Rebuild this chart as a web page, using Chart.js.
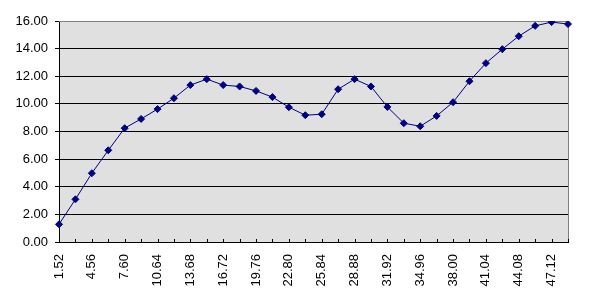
<!DOCTYPE html>
<html>
<head>
<meta charset="utf-8">
<script src="https://cdn.jsdelivr.net/npm/chart.js@4"></script>
<style>
  html, body { margin: 0; padding: 0; background: #fff; }
  #wrap { width: 604px; height: 301px; }
</style>
</head>
<body>
<div id="wrap"><canvas id="chart" width="604" height="301"></canvas></div>
<script>
const categories = [
  "1.52", "3.04", "4.56", "6.08", "7.60", "9.12", "10.64", "12.16",
  "13.68", "15.20", "16.72", "18.24", "19.76", "21.28", "22.80", "24.32",
  "25.84", "27.36", "28.88", "30.40", "31.92", "33.44", "34.96", "36.48",
  "38.00", "39.52", "41.04", "42.56", "44.08", "45.60", "47.12", "48.64"
];
const values = [
  1.28, 3.09, 4.98, 6.64, 8.24, 8.91, 9.62, 10.41,
  11.36, 11.79, 11.36, 11.26, 10.94, 10.49, 9.76, 9.18,
  9.25, 11.06, 11.79, 11.26, 9.78, 8.60, 8.38, 9.13,
  10.12, 11.64, 12.95, 13.96, 14.90, 15.65, 15.92, 15.78
];
const yMin = 0;
const yMax = 16;
const yStep = 2;

// plot background, frame and inward x tick marks
const framePlugin = {
  id: "frame",
  beforeDraw(chart) {
    const { ctx, chartArea: a } = chart;
    ctx.save();
    ctx.fillStyle = "#e0e0e0";
    ctx.fillRect(a.left, a.top, a.right - a.left, a.bottom - a.top);
    ctx.restore();
  },
  beforeDatasetsDraw(chart) {
    const { ctx, chartArea: a } = chart;
    const x = chart.scales.x;
    ctx.save();
    ctx.strokeStyle = "#808080";
    ctx.lineWidth = 1;
    ctx.beginPath();
    ctx.moveTo(a.left, a.top + 0.5);
    ctx.lineTo(a.right + 0.5, a.top + 0.5);
    ctx.lineTo(a.right + 0.5, a.bottom);
    ctx.stroke();
    ctx.strokeStyle = "#000";
    ctx.beginPath();
    x.ticks.forEach((t, i) => {
      const px = Math.round(x.getPixelForTick(i)) + 0.5;
      ctx.moveTo(px, a.bottom);
      ctx.lineTo(px, a.bottom - 3);
    });
    ctx.stroke();
    ctx.restore();
  }
};

new Chart(document.getElementById("chart"), {
  type: "line",
  data: {
    labels: categories,
    datasets: [{
      data: values,
      borderColor: "#000080",
      backgroundColor: "#000080",
      borderWidth: 1,
      pointStyle: "rectRot",
      pointRadius: 3.5,
      pointBorderWidth: 1,
      pointBackgroundColor: "#000080",
      pointBorderColor: "#000080",
      tension: 0
    }]
  },
  options: {
    responsive: false,
    animation: false,
    events: [],
    layout: { padding: { top: 21, right: 36, left: 0, bottom: 0 } },
    plugins: { legend: { display: false }, tooltip: { enabled: false } },
    scales: {
      x: {
        offset: false,
        grid: { display: false },
        border: { display: true, color: "#000", width: 1 },
        ticks: {
          autoSkip: false,
          minRotation: 90,
          maxRotation: 90,
          padding: 4,
          color: "#000",
          font: { family: "Liberation Sans, Arial", size: 13 },
          callback: (v, i) => (i % 2 === 0 ? categories[i] : "")
        },
        afterFit(s) { s.height = 59; }
      },
      y: {
        min: yMin,
        max: yMax,
        grid: {
          color: (c) => (c.tick && c.tick.value === yMax ? "#808080" : "#000"),
          tickColor: "#000",
          tickLength: 4,
          lineWidth: 1
        },
        border: { display: true, color: "#000", width: 1 },
        ticks: {
          stepSize: yStep,
          padding: 7,
          color: "#000",
          font: { family: "Liberation Sans, Arial", size: 13 },
          callback: (v) => v.toFixed(2)
        },
        afterFit(s) { s.width = 59; }
      }
    }
  },
  plugins: [framePlugin]
});
</script>
</body>
</html>
